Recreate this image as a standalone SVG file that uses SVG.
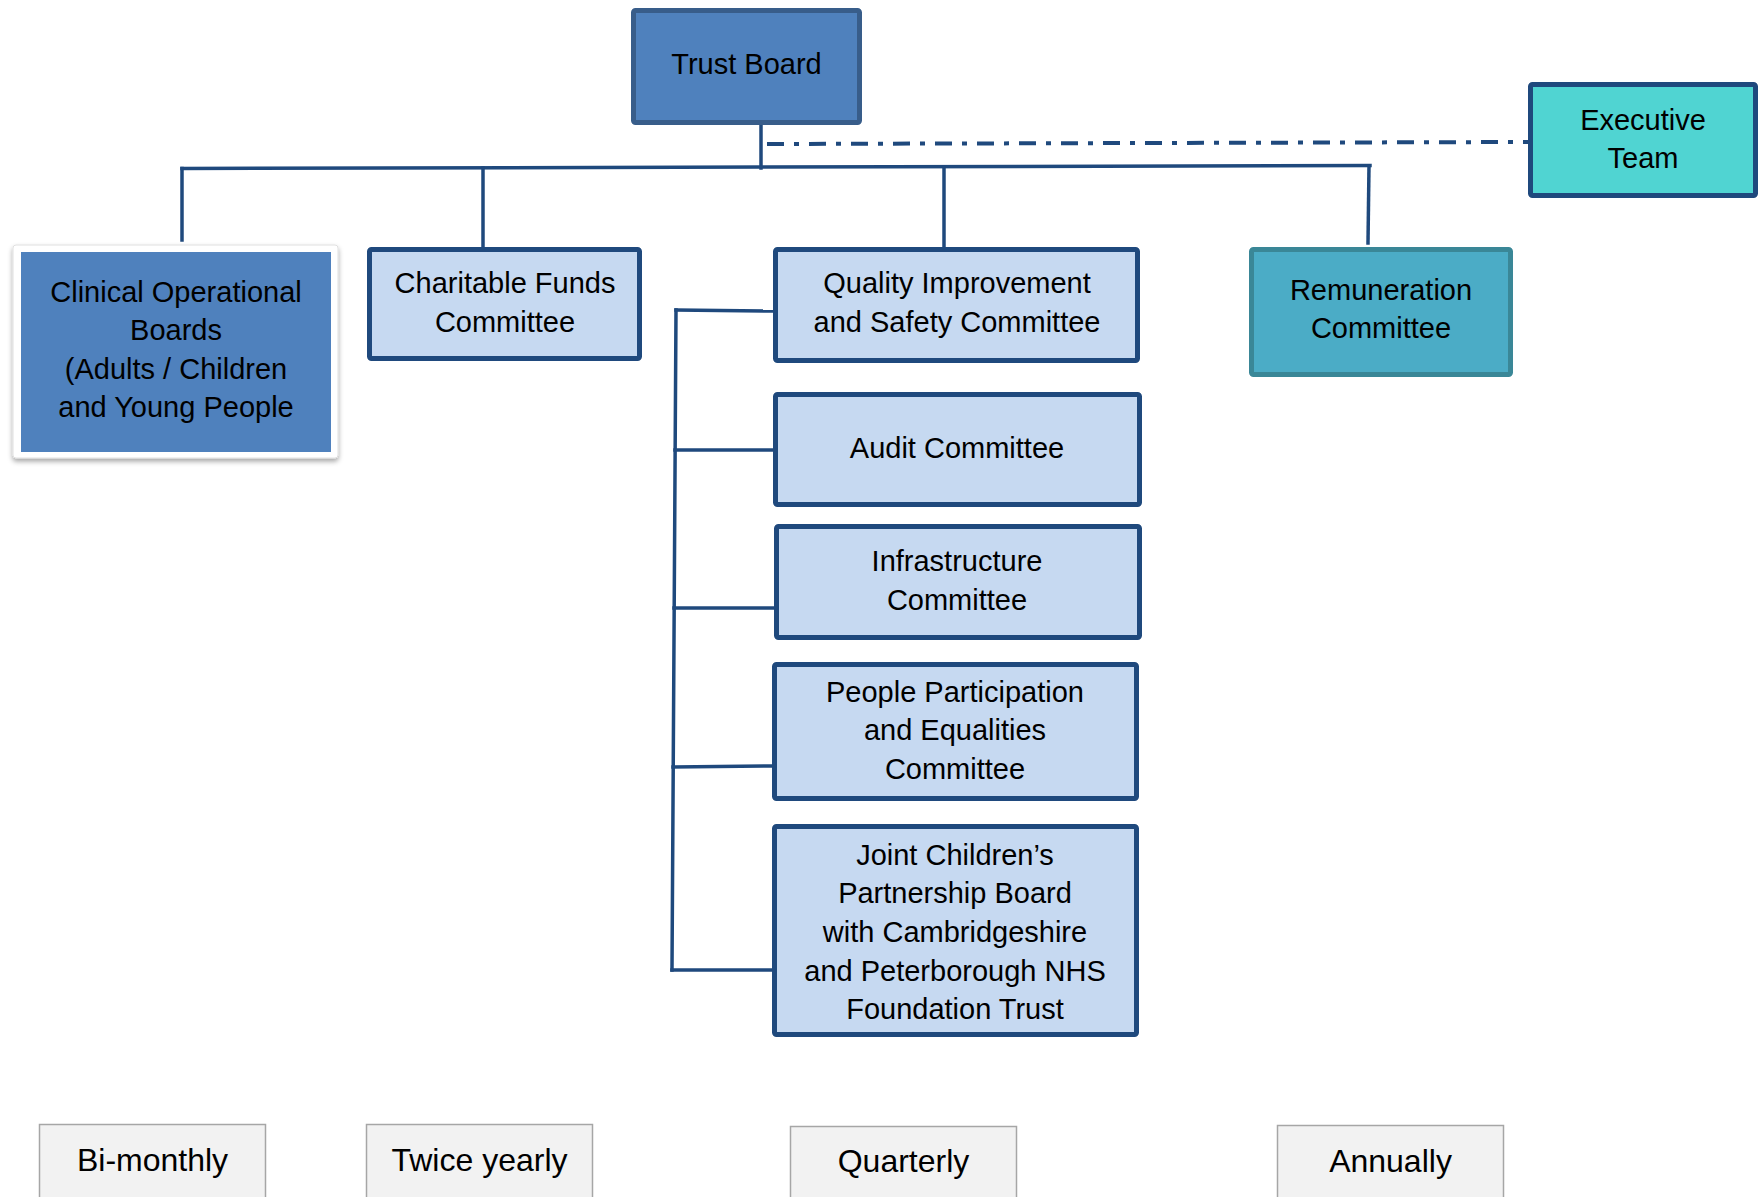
<svg xmlns="http://www.w3.org/2000/svg" width="1760" height="1197" viewBox="0 0 1760 1197">
<defs>
<style>
text{font-family:"Liberation Sans",Arial,sans-serif;font-size:29px;fill:#000;text-anchor:middle}
.conn{stroke:#1F497D;stroke-width:3.5;fill:none;stroke-linecap:square}
.committee{fill:#C6D9F1;stroke:#1F497D;stroke-width:5}
.freq{fill:#F2F2F2;stroke:#A6A6A6;stroke-width:1.5}
.freq-t{font-size:32px}
</style>
<filter id="sh" x="-10%" y="-10%" width="120%" height="125%">
<feDropShadow dx="0" dy="3" stdDeviation="2.5" flood-color="#000" flood-opacity="0.35"/>
</filter>
</defs>
<g id="connectors">
<line class="conn" x1="761" y1="125" x2="761" y2="168"/>
<line class="conn" x1="182" y1="168.5" x2="1370" y2="165.5"/>
<line class="conn" x1="182" y1="168.5" x2="182" y2="240"/>
<line class="conn" x1="483" y1="168" x2="483" y2="247"/>
<line class="conn" x1="944" y1="167" x2="944" y2="247"/>
<line class="conn" x1="1369" y1="166" x2="1368" y2="243"/>
<line stroke="#1F497D" stroke-width="4" stroke-dasharray="17 10 5 10" x1="767" y1="144" x2="1528" y2="142"/>
<line class="conn" x1="676" y1="310" x2="672" y2="970"/>
<line class="conn" x1="676" y1="310" x2="773" y2="311"/>
<line class="conn" x1="675" y1="450" x2="773" y2="450"/>
<line class="conn" x1="674" y1="608" x2="773" y2="608"/>
<line class="conn" x1="673" y1="767" x2="772" y2="766"/>
<line class="conn" x1="672" y1="970" x2="772" y2="970"/>
</g>
<g id="trust-board">
<rect x="633.5" y="10.5" width="226" height="112" rx="2" fill="#4F81BD" stroke="#385D8A" stroke-width="5"/>
<text x="746.5" y="74">Trust Board</text>
</g>
<g id="executive-team">
<rect x="1530.5" y="84.5" width="225" height="111" rx="2" fill="#50D4D2" stroke="#1F497D" stroke-width="5"/>
<text x="1643" y="130">Executive</text>
<text x="1643" y="168">Team</text>
</g>
<g id="clinical-operational-boards">
<rect x="13" y="245" width="325" height="213" rx="3" fill="#FFFFFF" stroke="#E0E0E0" stroke-width="1" filter="url(#sh)"/>
<rect x="21" y="252" width="310" height="200" fill="#4F81BD"/>
<text x="176" y="302">Clinical Operational</text>
<text x="176" y="340">Boards</text>
<text x="176" y="379">(Adults / Children</text>
<text x="176" y="417">and Young People</text>
</g>
<g id="charitable-funds">
<rect class="committee" x="369.5" y="249.5" width="270" height="109" rx="2"/>
<text x="505" y="293">Charitable Funds</text>
<text x="505" y="332">Committee</text>
</g>
<g id="quality-improvement">
<rect class="committee" x="775.5" y="249.5" width="362" height="111" rx="2"/>
<text x="957" y="293">Quality Improvement</text>
<text x="957" y="332">and Safety Committee</text>
</g>
<g id="audit">
<rect class="committee" x="775.5" y="394.5" width="364" height="110" rx="2"/>
<text x="957" y="458">Audit Committee</text>
</g>
<g id="infrastructure">
<rect class="committee" x="776.5" y="526.5" width="363" height="111" rx="2"/>
<text x="957" y="571">Infrastructure</text>
<text x="957" y="610">Committee</text>
</g>
<g id="people-participation">
<rect class="committee" x="774.5" y="664.5" width="362" height="134" rx="2"/>
<text x="955" y="702">People Participation</text>
<text x="955" y="740">and Equalities</text>
<text x="955" y="779">Committee</text>
</g>
<g id="joint-childrens">
<rect class="committee" x="774.5" y="826.5" width="362" height="208" rx="2"/>
<text x="955" y="865">Joint Children’s</text>
<text x="955" y="903">Partnership Board</text>
<text x="955" y="942">with Cambridgeshire</text>
<text x="955" y="981">and Peterborough NHS</text>
<text x="955" y="1019">Foundation Trust</text>
</g>
<g id="remuneration">
<rect x="1251.5" y="249.5" width="259" height="125" rx="2" fill="#4BACC6" stroke="#3A8797" stroke-width="5"/>
<text x="1381" y="300">Remuneration</text>
<text x="1381" y="338">Committee</text>
</g>
<g id="freq-bimonthly">
<rect class="freq" x="39.5" y="1124.5" width="226" height="90"/>
<text class="freq-t" x="152.5" y="1171">Bi-monthly</text>
</g>
<g id="freq-twice-yearly">
<rect class="freq" x="366.5" y="1124.5" width="226" height="90"/>
<text class="freq-t" x="479.5" y="1171">Twice yearly</text>
</g>
<g id="freq-quarterly">
<rect class="freq" x="790.5" y="1126.5" width="226" height="90"/>
<text class="freq-t" x="903.5" y="1172">Quarterly</text>
</g>
<g id="freq-annually">
<rect class="freq" x="1277.5" y="1125.5" width="226" height="90"/>
<text class="freq-t" x="1390.5" y="1172">Annually</text>
</g>
</svg>
